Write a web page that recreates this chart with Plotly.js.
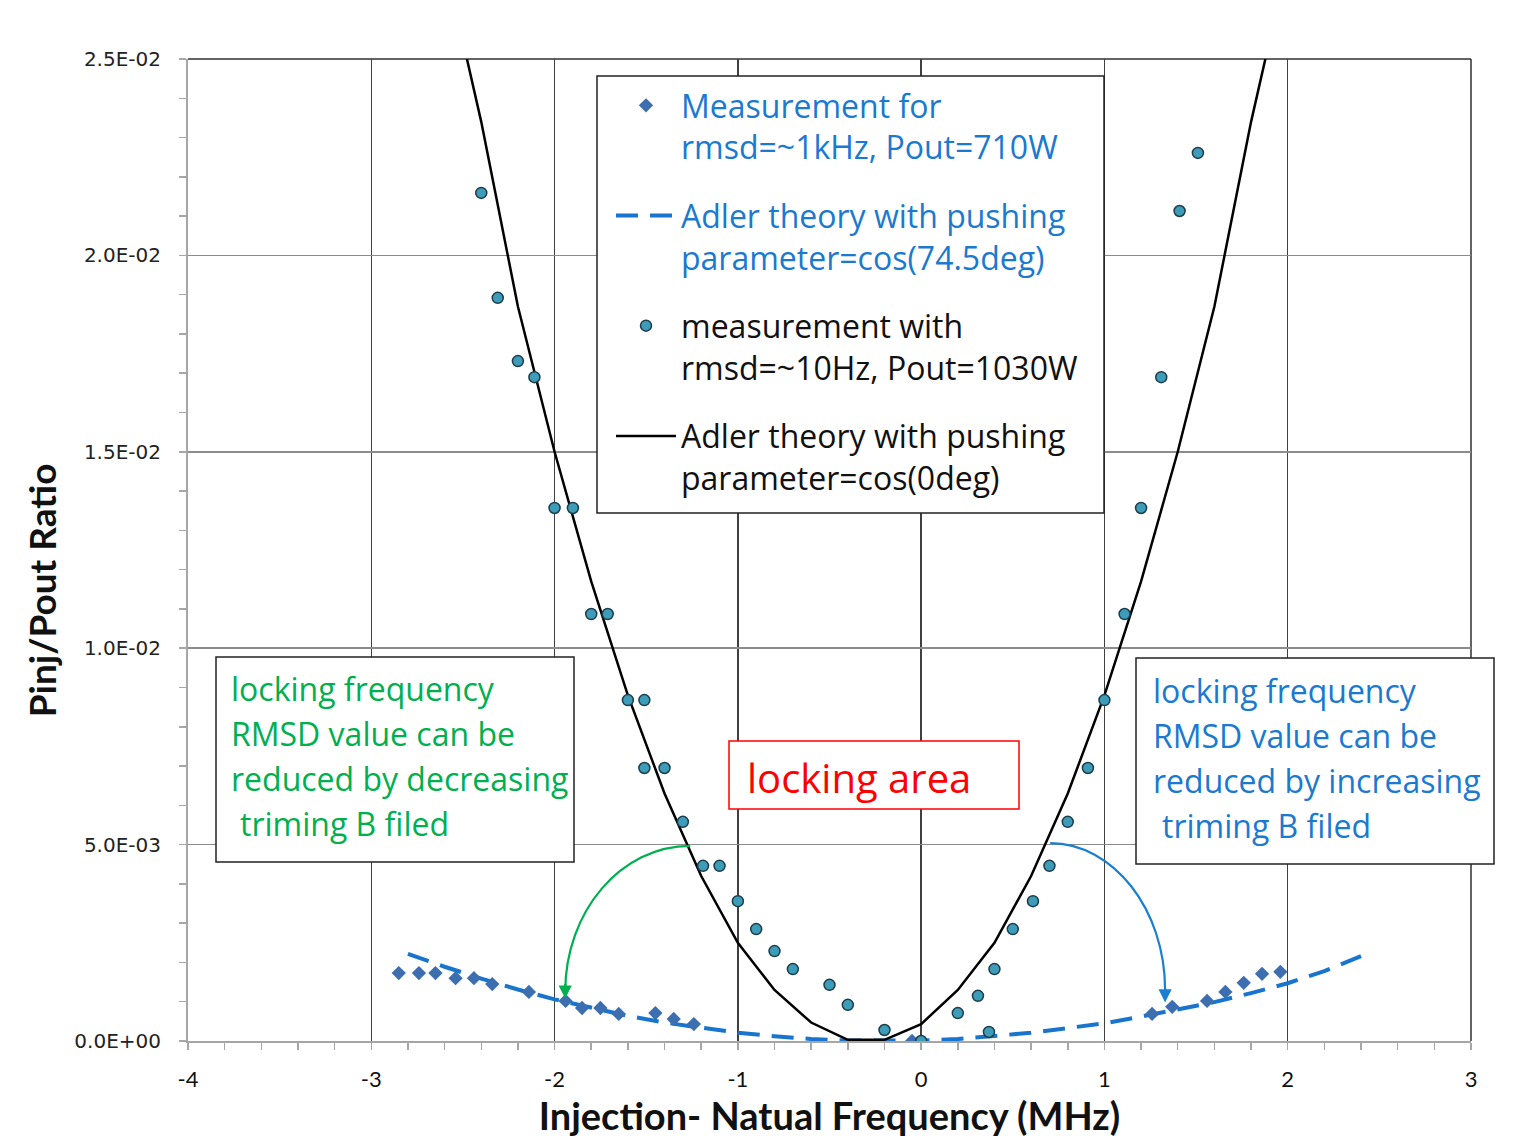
<!DOCTYPE html>
<html><head><meta charset="utf-8">
<script src="https://cdn.plot.ly/plotly-3.0.1.min.js"></script>
<style>html,body{margin:0;padding:0;background:#fff}#chart{width:1523px;height:1143px}</style>
</head><body><div id="chart"></div>
<script>
// Measurement for rmsd=~1kHz, Pout=710W (diamonds)
const diamondX = [-2.85,-2.74,-2.65,-2.54,-2.44,-2.34,-2.14,-1.94,-1.85,-1.75,-1.65,-1.45,-1.35,-1.24,-0.05,1.26,1.37,1.56,1.66,1.76,1.86,1.96];
const diamondY = [0.00173,0.00173,0.00173,0.00160,0.00160,0.00145,0.00125,0.00102,0.00084,0.00084,0.00069,0.00071,0.00056,0.00043,0.00000,0.00069,0.00087,0.00102,0.00125,0.00148,0.00171,0.00176];

// measurement with rmsd=~10Hz, Pout=1030W (circles)
const circleX = [-2.40,-2.31,-2.20,-2.11,-2.00,-1.90,-1.80,-1.71,-1.60,-1.51,-1.51,-1.40,-1.30,-1.19,-1.10,-1.00,-0.90,-0.80,-0.70,-0.50,-0.40,-0.20,0.00,0.20,0.31,0.37,0.40,0.50,0.61,0.70,0.80,0.91,1.00,1.11,1.20,1.31,1.41,1.51];
const circleY = [0.02159,0.01892,0.01731,0.01690,0.01357,0.01357,0.01087,0.01087,0.00868,0.00868,0.00695,0.00695,0.00558,0.00446,0.00446,0.00356,0.00285,0.00229,0.00183,0.00143,0.00092,0.00028,0.00000,0.00071,0.00115,0.00023,0.00183,0.00285,0.00356,0.00446,0.00558,0.00695,0.00868,0.01087,0.01357,0.01690,0.02113,0.02261];

// Adler theory with pushing parameter=cos(0deg) (solid black)
const adler0X = [-2.6,-2.4,-2.2,-2.0,-1.8,-1.6,-1.4,-1.2,-1.0,-0.8,-0.6,-0.4,-0.2,0.0,0.2,0.4,0.6,0.8,1.0,1.2,1.4,1.6,1.8,2.0];
const adler0Y = [0.0275,0.0234,0.0187,0.0150,0.0117,0.0088,0.0063,0.0042,0.0025,0.0013,0.00047,0.00003,0.00003,0.00043,0.0013,0.0025,0.0042,0.0063,0.0088,0.0117,0.0150,0.0187,0.0234,0.0275];

// Adler theory with pushing parameter=cos(74.5deg) (dashed blue)
const adler745X = [-2.8,-2.6,-2.4,-2.2,-2.0,-1.8,-1.6,-1.4,-1.2,-1.0,-0.8,-0.6,-0.4,-0.2,0.0,0.2,0.4,0.6,0.8,1.0,1.2,1.4,1.6,1.8,2.0,2.2,2.4];
const adler745Y = [0.00222,0.00189,0.00159,0.00131,0.00106,0.00084,0.00064,0.00047,0.00033,0.00021,0.00012,0.00005,0.00001,0.0,0.00001,0.00005,0.00012,0.00021,0.00033,0.00045,0.00062,0.00080,0.00099,0.00122,0.00147,0.00178,0.00216];

const xTickVals = [-4,-3,-2,-1,0,1,2,3];
const xTickText = ['-4','-3','-2','-1','0','1','2','3'];
const yTickVals = [0,0.005,0.01,0.015,0.02,0.025];
const yTickText = ['0.0E+00','5.0E-03','1.0E-02','1.5E-02','2.0E-02','2.5E-02'];

const BLUE = '#1a7ad0', GREEN = '#00b050';
const W = 1523, H = 1143, L = 188, R = 52, T = 59, B = 102;
const pw = W - L - R, ph = H - T - B;
const px = v => (v - L) / pw;
const py = v => (H - B - v) / ph;
const pad = n => '&nbsp;'.repeat(n);

const traces = [
  {x: adler745X, y: adler745Y, type:'scatter', mode:'lines', legendgroup:'g2', legendrank:2,
   name:'<span style="color:'+BLUE+'">Adler theory with pushing</span><br><span style="color:'+BLUE+'">parameter=cos(74.5deg)</span>',
   line:{color:'#1874cd', width:4, dash:'22px,12px'}},
  {x: adler0X, y: adler0Y, type:'scatter', mode:'lines', legendgroup:'g4', legendrank:4,
   name:'Adler theory with pushing<br>parameter=cos(0deg)',
   line:{color:'#000', width:2.5}},
  {x: diamondX, y: diamondY, type:'scatter', mode:'markers', legendgroup:'g1', legendrank:1,
   name:'<span style="color:'+BLUE+'">Measurement for</span><br><span style="color:'+BLUE+'">rmsd=~1kHz, Pout=710W</span>',
   marker:{symbol:'diamond', size:11, color:'#3d6eb0'}},
  {x: circleX, y: circleY, type:'scatter', mode:'markers', legendgroup:'g3', legendrank:3,
   name:'measurement with<br>rmsd=~10Hz, Pout=1030W',
   marker:{symbol:'circle', size:11, color:'#3d9db8', line:{color:'#1d3c4c', width:1.5}}}
];

const boxLine = {color:'#222', width:1.5};
const frame = {color:'#303030', width:1.5};
const shapes = [
  {type:'line', xref:'paper', yref:'paper', x0:0, x1:1, y0:1, y1:1, line:frame, layer:'below'},
  {type:'line', xref:'paper', yref:'paper', x0:1, x1:1, y0:0, y1:1, line:frame, layer:'below'},
  {type:'rect', xref:'paper', yref:'paper', x0:px(597), x1:px(1104), y0:py(513), y1:py(76), fillcolor:'#fff', line:boxLine, layer:'above'},
  {type:'rect', xref:'paper', yref:'paper', x0:px(216), x1:px(574), y0:py(862), y1:py(657), fillcolor:'#fff', line:boxLine, layer:'above'},
  {type:'rect', xref:'paper', yref:'paper', x0:px(1136), x1:px(1494), y0:py(864), y1:py(658), fillcolor:'#fff', line:boxLine, layer:'above'},
  {type:'rect', xref:'paper', yref:'paper', x0:px(729), x1:px(1019), y0:py(809), y1:py(741), fillcolor:'#fff', line:{color:'#ff0000', width:1.5}, layer:'above'},
  {type:'path', xref:'x', yref:'y', path:'M -1.260,0.00497 C -1.637,0.00497 -1.942,0.00330 -1.942,0.00125', line:{color:GREEN, width:2.2}, layer:'above'},
  {type:'path', xref:'x', yref:'y', path:'M 0.704,0.00504 C 1.047,0.00504 1.331,0.00335 1.331,0.00130', line:{color:'#1a7fd0', width:2.2}, layer:'above'}
];

const annFont = (c, s) => ({family:'Open Sans, sans-serif', size:s, color:c});
const greenLines = ['locking frequency','RMSD value can be','reduced by decreasing','triming B filed'];
const blueLines = ['locking frequency','RMSD value can be','reduced by increasing','triming B filed'];
const annotations = [];
greenLines.forEach((t,i) => annotations.push({xref:'paper', yref:'paper', x:px(i===3?238:229), y:py(688+45*i), xanchor:'left', yanchor:'middle', showarrow:false, text:t, font:annFont(GREEN,32)}));
blueLines.forEach((t,i) => annotations.push({xref:'paper', yref:'paper', x:px(i===3?1160:1151), y:py(690+45*i), xanchor:'left', yanchor:'middle', showarrow:false, text:t, font:annFont(BLUE,32)}));
annotations.push({xref:'paper', yref:'paper', x:px(859), y:py(777), xanchor:'center', yanchor:'middle', showarrow:false, text:'locking area', font:annFont('#ff0000',40)});
annotations.push({xref:'x', yref:'y', x:-1.942, y:0.00108, ax:0, ay:-16, text:'', showarrow:true, arrowhead:2, arrowsize:1.2, arrowwidth:2.2, arrowcolor:GREEN});
annotations.push({xref:'x', yref:'y', x:1.331, y:0.00098, ax:0, ay:-16, text:'', showarrow:true, arrowhead:2, arrowsize:1.2, arrowwidth:2.2, arrowcolor:'#1a7fd0'});

const axisGray = '#a6a6a6';
const layout = {
  width:W, height:H,
  margin:{l:L, r:R, t:T, b:B, pad:0},
  paper_bgcolor:'#fff', plot_bgcolor:'#fff',
  showlegend:true,
  legend:{x:px(611), y:py(78), xanchor:'left', yanchor:'top', bgcolor:'rgba(0,0,0,0)', borderwidth:0,
          font:{family:'Open Sans, sans-serif', size:32, color:'#111'}, traceorder:'grouped', tracegroupgap:24,
          itemwidth:60, valign:'top'},
  xaxis:{range:[-4,3], tickmode:'array', tickvals:xTickVals, ticktext:xTickText, showgrid:true, gridcolor:'#404040', gridwidth:1.5, zeroline:false,
         showline:true, linecolor:axisGray, linewidth:2, ticks:'outside', ticklen:7, tickcolor:axisGray, tickwidth:1.5,
         minor:{dtick:0.2, tick0:0, ticks:'outside', ticklen:7, tickcolor:axisGray, tickwidth:1.5, showgrid:false},
         tickfont:{family:'Lato, sans-serif', size:22, color:'#111'}, ticklabelstandoff:11,
         title:{text:'Injection- Natual Frequency (MHz)', font:{family:'Lato, sans-serif', size:38, color:'#111', weight:'bold'}, standoff:4}},
  yaxis:{range:[0,0.025], tickmode:'array', tickvals:yTickVals, ticktext:yTickText, showgrid:true, gridcolor:'#8c8c8c', gridwidth:1.5, zeroline:false,
         showline:true, linecolor:axisGray, linewidth:2, ticks:'outside', ticklen:7, tickcolor:axisGray, tickwidth:1.5,
         minor:{dtick:0.001, tick0:0, ticks:'outside', ticklen:7, tickcolor:axisGray, tickwidth:1.5, showgrid:false},
         tickfont:{family:'DejaVu Sans, sans-serif', size:20, color:'#222'}, ticklabelstandoff:14,
         title:{text:'Pinj/Pout Ratio' + pad(9), font:{family:'Lato, sans-serif', size:37, color:'#111', weight:'bold'}, standoff:6}},
  shapes:shapes, annotations:annotations
};

Plotly.newPlot('chart', traces, layout, {staticPlot:true, displayModeBar:false});
</script></body></html>
